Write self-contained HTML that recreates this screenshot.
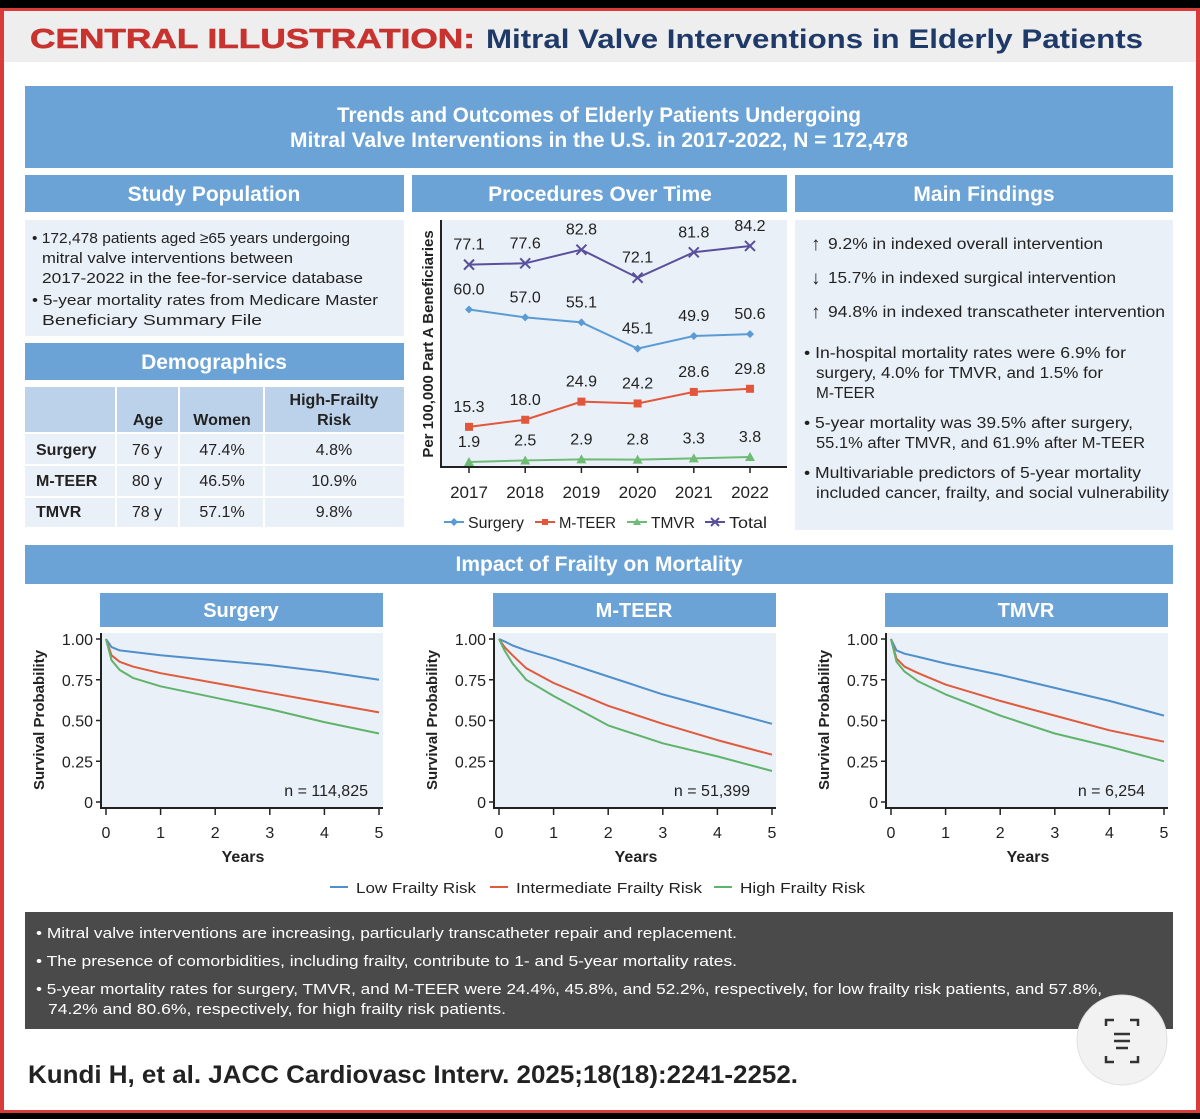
<!DOCTYPE html>
<html><head><meta charset="utf-8"><style>
html,body{margin:0;padding:0;background:#000;}
svg{display:block;font-family:"Liberation Sans",sans-serif;}
</style></head><body>
<svg id="page" width="1200" height="1119" viewBox="0 0 1200 1119">
<rect x="0" y="0" width="1200" height="1119" fill="#000"/>
<rect x="0" y="8" width="1200" height="1105" fill="#d93a3a"/>
<rect x="4" y="11" width="1192" height="1099" fill="#fff"/>
<rect x="4" y="11" width="1192" height="51" fill="#eeeeee"/>
<text x="30" y="48" font-size="28" font-weight="bold" fill="#c8332f" stroke="#c8332f" stroke-width="0.6" textLength="445" lengthAdjust="spacingAndGlyphs">CENTRAL ILLUSTRATION:</text>
<text x="486" y="48" font-size="27" font-weight="bold" fill="#1f3a68" textLength="657" lengthAdjust="spacingAndGlyphs">Mitral Valve Interventions in Elderly Patients</text>

<rect x="25" y="86" width="1148" height="82" fill="#6ba3d6"/>
<text x="599" y="122" font-size="21" font-weight="bold" fill="#fff" text-anchor="middle" textLength="524" lengthAdjust="spacingAndGlyphs">Trends and Outcomes of Elderly Patients Undergoing</text>
<text x="599" y="147" font-size="21" font-weight="bold" fill="#fff" text-anchor="middle" textLength="618" lengthAdjust="spacingAndGlyphs">Mitral Valve Interventions in the U.S. in 2017-2022, N = 172,478</text>

<!-- Study population -->
<rect x="25" y="175" width="379" height="37" fill="#6ba3d6"/>
<text x="214" y="201" font-size="21" font-weight="bold" fill="#fff" text-anchor="middle">Study Population</text>
<rect x="25" y="220" width="379" height="116" fill="#eaf0f8"/>
<g font-size="15" fill="#222">
<text x="32" y="243" textLength="318" lengthAdjust="spacingAndGlyphs">• 172,478 patients aged ≥65 years undergoing</text>
<text x="42" y="263" textLength="251" lengthAdjust="spacingAndGlyphs">mitral valve interventions between</text>
<text x="42" y="283" textLength="321" lengthAdjust="spacingAndGlyphs">2017-2022 in the fee-for-service database</text>
<text x="32" y="305" textLength="346" lengthAdjust="spacingAndGlyphs">• 5-year mortality rates from Medicare Master</text>
<text x="42" y="325" textLength="220" lengthAdjust="spacingAndGlyphs">Beneficiary Summary File</text>
</g>
<rect x="25" y="343" width="379" height="37" fill="#6ba3d6"/>
<text x="214" y="369" font-size="21" font-weight="bold" fill="#fff" text-anchor="middle">Demographics</text>
<g>
<rect x="25" y="387" width="90" height="45" fill="#bcd2ea"/>
<rect x="117" y="387" width="61" height="45" fill="#bcd2ea"/>
<rect x="180" y="387" width="83" height="45" fill="#bcd2ea"/>
<rect x="265" y="387" width="139" height="45" fill="#bcd2ea"/>
<rect x="25" y="434" width="379" height="30" fill="#eaf0f8"/>
<rect x="25" y="466" width="379" height="30" fill="#eaf0f8"/>
<rect x="25" y="498" width="379" height="29" fill="#eaf0f8"/>
<line x1="116" y1="432" x2="116" y2="527" stroke="#fff" stroke-width="2"/>
<line x1="179" y1="432" x2="179" y2="527" stroke="#fff" stroke-width="2"/>
<line x1="264" y1="432" x2="264" y2="527" stroke="#fff" stroke-width="2"/>
<g font-size="16" font-weight="bold" fill="#222" text-anchor="middle">
<text x="148" y="425">Age</text><text x="222" y="425">Women</text>
<text x="334" y="405">High-Frailty</text><text x="334" y="425">Risk</text>
</g>
<g font-size="16" fill="#222">
<text x="36" y="455" font-weight="bold">Surgery</text><text x="147" y="455" text-anchor="middle">76 y</text><text x="222" y="455" text-anchor="middle">47.4%</text><text x="334" y="455" text-anchor="middle">4.8%</text>
<text x="36" y="486" font-weight="bold">M-TEER</text><text x="147" y="486" text-anchor="middle">80 y</text><text x="222" y="486" text-anchor="middle">46.5%</text><text x="334" y="486" text-anchor="middle">10.9%</text>
<text x="36" y="517" font-weight="bold">TMVR</text><text x="147" y="517" text-anchor="middle">78 y</text><text x="222" y="517" text-anchor="middle">57.1%</text><text x="334" y="517" text-anchor="middle">9.8%</text>
</g>
</g>

<!-- Procedures -->
<rect x="412" y="175" width="375" height="37" fill="#6ba3d6"/>
<text x="600" y="201" font-size="21" font-weight="bold" fill="#fff" text-anchor="middle">Procedures Over Time</text>
<rect x="441" y="220" width="346" height="248" fill="#eaf0f8"/>
<g id="proc"></g>
<text transform="translate(433,344) rotate(-90)" font-size="15" font-weight="bold" fill="#222" text-anchor="middle">Per 100,000 Part A Beneficiaries</text>

<!-- Main findings -->
<rect x="795" y="175" width="378" height="37" fill="#6ba3d6"/>
<text x="984" y="201" font-size="21" font-weight="bold" fill="#fff" text-anchor="middle">Main Findings</text>
<rect x="795" y="220" width="378" height="310" fill="#eaf0f8"/>
<g font-size="15.5" fill="#222">
<text x="811" y="250" font-size="19" font-weight="bold">↑</text><text x="828" y="249" textLength="275" lengthAdjust="spacingAndGlyphs">9.2% in indexed overall intervention</text>
<text x="811" y="284" font-size="19" font-weight="bold">↓</text><text x="828" y="283" textLength="288" lengthAdjust="spacingAndGlyphs">15.7% in indexed surgical intervention</text>
<text x="811" y="318" font-size="19" font-weight="bold">↑</text><text x="828" y="317" textLength="337" lengthAdjust="spacingAndGlyphs">94.8% in indexed transcatheter intervention</text>
<text x="804" y="358" textLength="322" lengthAdjust="spacingAndGlyphs">• In-hospital mortality rates were 6.9% for</text>
<text x="816" y="378" textLength="287" lengthAdjust="spacingAndGlyphs">surgery, 4.0% for TMVR, and 1.5% for</text>
<text x="816" y="398" textLength="59" lengthAdjust="spacingAndGlyphs">M-TEER</text>
<text x="804" y="428" textLength="329" lengthAdjust="spacingAndGlyphs">• 5-year mortality was 39.5% after surgery,</text>
<text x="816" y="448" textLength="329" lengthAdjust="spacingAndGlyphs">55.1% after TMVR, and 61.9% after M-TEER</text>
<text x="804" y="478" textLength="337" lengthAdjust="spacingAndGlyphs">• Multivariable predictors of 5-year mortality</text>
<text x="816" y="498" textLength="353" lengthAdjust="spacingAndGlyphs">included cancer, frailty, and social vulnerability</text>
</g>

<!-- Impact -->
<rect x="25" y="545" width="1148" height="39" fill="#6ba3d6"/>
<text x="599" y="571" font-size="21" font-weight="bold" fill="#fff" text-anchor="middle">Impact of Frailty on Mortality</text>
<g id="km"></g>

<g font-size="15" fill="#222">
<line x1="330" y1="887" x2="348" y2="887" stroke="#4f8fcc" stroke-width="2"/><text x="356" y="893" textLength="120" lengthAdjust="spacingAndGlyphs">Low Frailty Risk</text>
<line x1="490" y1="887" x2="508" y2="887" stroke="#e05a3c" stroke-width="2"/><text x="516" y="893" textLength="186" lengthAdjust="spacingAndGlyphs">Intermediate Frailty Risk</text>
<line x1="714" y1="887" x2="732" y2="887" stroke="#5fb36a" stroke-width="2"/><text x="740" y="893" textLength="125" lengthAdjust="spacingAndGlyphs">High Frailty Risk</text>
</g>

<rect x="25" y="912" width="1148" height="117" fill="#4a4a4a"/>
<g font-size="15" fill="#fff">
<text x="36" y="938" textLength="701" lengthAdjust="spacingAndGlyphs">• Mitral valve interventions are increasing, particularly transcatheter repair and replacement.</text>
<text x="36" y="966" textLength="701" lengthAdjust="spacingAndGlyphs">• The presence of comorbidities, including frailty, contribute to 1- and 5-year mortality rates.</text>
<text x="36" y="994" textLength="1066" lengthAdjust="spacingAndGlyphs">• 5-year mortality rates for surgery, TMVR, and M-TEER were 24.4%, 45.8%, and 52.2%, respectively, for low frailty risk patients, and 57.8%,</text>
<text x="48" y="1014" textLength="458" lengthAdjust="spacingAndGlyphs">74.2% and 80.6%, respectively, for high frailty risk patients.</text>
</g>
<text x="28" y="1083" font-size="25" font-weight="bold" fill="#222" textLength="770" lengthAdjust="spacingAndGlyphs">Kundi H, et al. JACC Cardiovasc Interv. 2025;18(18):2241-2252.</text>

<g>
<circle cx="1122" cy="1040" r="45" fill="#f2f2f2" stroke="#e0e0e0"/>
<path d="M1106 1026 v-6 h8 M1130 1020 h8 v6 M1106 1056 v6 h8 M1130 1062 h8 v-6 M1114 1034 h16 M1114 1041 h16 M1116 1048 h12" stroke="#333" stroke-width="2.5" fill="none"/>
</g>
</svg>
<script>
var NS="http://www.w3.org/2000/svg";
// ---- Procedures data ----
var years=["2017","2018","2019","2020","2021","2022"];
var surgeryVals=[60.0,57.0,55.1,45.1,49.9,50.6];
var mteerVals=[15.3,18.0,24.9,24.2,28.6,29.8];
var tmvrVals=[1.9,2.5,2.9,2.8,3.3,3.8];
var totalVals=[77.1,77.6,82.8,72.1,81.8,84.2];
// ---- Survival data ----
var kmTimes=[0,0.1,0.25,0.5,1,2,3,4,5];
var surgLow=[1,0.95,0.93,0.92,0.90,0.87,0.84,0.80,0.75];
var surgInt=[1,0.90,0.86,0.83,0.79,0.73,0.67,0.61,0.55];
var surgHigh=[1,0.87,0.81,0.76,0.71,0.64,0.57,0.49,0.42];
var mteerLow=[1,0.985,0.96,0.93,0.88,0.77,0.66,0.57,0.48];
var mteerInt=[1,0.95,0.90,0.82,0.73,0.59,0.48,0.38,0.29];
var mteerHigh=[1,0.93,0.85,0.75,0.65,0.47,0.36,0.28,0.19];
var tmvrLow=[1,0.93,0.91,0.89,0.85,0.78,0.70,0.62,0.53];
var tmvrInt=[1,0.88,0.83,0.79,0.72,0.62,0.53,0.44,0.37];
var tmvrHigh=[1,0.86,0.80,0.74,0.66,0.53,0.42,0.34,0.25];
var kmTicksY=["0","0.25","0.50","0.75","1.00"];
var kmTicksX=["0","1","2","3","4","5"];
var panelNames=["Surgery","M-TEER","TMVR"];
var panelN=["n = 114,825","n = 51,399","n = 6,254"];

function mk(tag,attrs,parent){var e=document.createElementNS(NS,tag);for(var k in attrs)e.setAttribute(k,attrs[k]);parent.appendChild(e);return e;}

// Procedures chart
var proc=document.getElementById("proc");
function px(i){return 469+i*56.2;}
function py(v){return 467-v*2.625;}
mk("line",{x1:441,y1:220,x2:441,y2:468,stroke:"#222","stroke-width":2},proc);
mk("line",{x1:440,y1:467,x2:787,y2:467,stroke:"#222","stroke-width":2},proc);
years.forEach(function(y,i){
  mk("line",{x1:px(i),y1:467,x2:px(i),y2:473,stroke:"#222","stroke-width":1.5},proc);
  var t=mk("text",{x:px(i),y:498,"font-size":17,"text-anchor":"middle",fill:"#222"},proc);t.textContent=y;
  
  
});
var series=[[surgeryVals,"#5b9bd5","diamond","surgery"],[mteerVals,"#e2573b","square","mteer"],[tmvrVals,"#6dbb75","tri","tmvr"],[totalVals,"#5a4f9c","x","total"]];
series.forEach(function(s){
  var d=s[0].map(function(v,i){return (i?"L":"M")+px(i)+" "+py(v);}).join(" ");
  var p=mk("path",{d:d,fill:"none",stroke:s[1],"stroke-width":2},proc);
  
  
  s[0].forEach(function(v,i){
    var x=px(i),y=py(v),m;
    if(s[2]=="diamond")m=mk("path",{d:"M"+x+" "+(y-4)+"L"+(x+4)+" "+y+"L"+x+" "+(y+4)+"L"+(x-4)+" "+y+"Z",fill:s[1]},proc);
    else if(s[2]=="square")m=mk("rect",{x:x-4,y:y-4,width:8,height:8,fill:s[1]},proc);
    else if(s[2]=="tri")m=mk("path",{d:"M"+x+" "+(y-5)+"L"+(x+5)+" "+(y+4)+"L"+(x-5)+" "+(y+4)+"Z",fill:s[1]},proc);
    else m=mk("path",{d:"M"+(x-5)+" "+(y-5)+"L"+(x+5)+" "+(y+5)+"M"+(x+5)+" "+(y-5)+"L"+(x-5)+" "+(y+5),stroke:s[1],"stroke-width":2},proc);
    
    
    var t=mk("text",{x:x,y:y-15,"font-size":16,"text-anchor":"middle",fill:"#222"},proc);
    t.textContent=v.toFixed(1);
    
    
  });
});
// legend
var lg=[["Surgery",444,"#5b9bd5","diamond",56],["M-TEER",535,"#e2573b","square",57],["TMVR",627,"#6dbb75","tri",44],["Total",705,"#5a4f9c","x",38]];
lg.forEach(function(l){
  var g=mk("g",{},proc);
  
  
  var x=l[1];
  mk("line",{x1:x,y1:522,x2:x+20,y2:522,stroke:l[2],"stroke-width":2},g);
  var cx=x+10;
  if(l[3]=="diamond")mk("path",{d:"M"+cx+" 518L"+(cx+4)+" 522L"+cx+" 526L"+(cx-4)+" 522Z",fill:l[2]},g);
  else if(l[3]=="square")mk("rect",{x:cx-3,y:519,width:6,height:6,fill:l[2]},g);
  else if(l[3]=="tri")mk("path",{d:"M"+cx+" 518L"+(cx+4)+" 525L"+(cx-4)+" 525Z",fill:l[2]},g);
  else mk("path",{d:"M"+(cx-4)+" 518L"+(cx+4)+" 526M"+(cx+4)+" 518L"+(cx-4)+" 526",stroke:l[2],"stroke-width":2},g);
  var t=mk("text",{x:x+24,y:528,"font-size":16,fill:"#222",textLength:l[4],lengthAdjust:"spacingAndGlyphs"},g);t.textContent=l[0];
});

// KM charts
var km=document.getElementById("km");
var panelData=[[surgLow,surgInt,surgHigh],[mteerLow,mteerInt,mteerHigh],[tmvrLow,tmvrInt,tmvrHigh]];
var kmColors=["#4f8fcc","#e05a3c","#5fb36a"];
var kmNames=["low-frailty","intermediate-frailty","high-frailty"];
var offsets=[0,393,785];
panelData.forEach(function(pd,pi){
  var o=offsets[pi];
  var g=mk("g",{},km);
  
  
  var X0=106+o,W=273;
  function sx(t){return X0+t/5*W;}
  function sy(v){return 802-v*163;}
  var hdr=mk("rect",{x:100+o,y:593,width:283,height:34,fill:"#6ba3d6"},g);
  
  
  var ht=mk("text",{x:241+o,y:617,"font-size":20,"font-weight":"bold",fill:"#fff","text-anchor":"middle"},g);ht.textContent=panelNames[pi];
  mk("rect",{x:101+o,y:633,width:282,height:175,fill:"#eaf0f8"},g);
  mk("line",{x1:101+o,y1:633,x2:101+o,y2:809,stroke:"#222","stroke-width":2},g);
  mk("line",{x1:100+o,y1:808,x2:383+o,y2:808,stroke:"#222","stroke-width":2},g);
  kmTicksY.forEach(function(l,i){
    var y=sy(i*0.25);
    mk("line",{x1:96+o,y1:y,x2:101+o,y2:y,stroke:"#222","stroke-width":1.5},g);
    var t=mk("text",{x:93+o,y:y+6,"font-size":16,"text-anchor":"end",fill:"#222"},g);t.textContent=l;
    
    
  });
  kmTicksX.forEach(function(l,i){
    var x=sx(+l);
    mk("line",{x1:x,y1:808,x2:x,y2:815,stroke:"#222","stroke-width":1.5},g);
    var t=mk("text",{x:x,y:838,"font-size":16,"text-anchor":"middle",fill:"#222"},g);t.textContent=l;
    
    
  });
  var yt=mk("text",{transform:"translate("+(44+o)+",720) rotate(-90)","font-size":15,"font-weight":"bold","text-anchor":"middle",fill:"#222"},g);yt.textContent="Survival Probability";
  
  
  var xt=mk("text",{x:243+o,y:862,"font-size":16,"font-weight":"bold","text-anchor":"middle",fill:"#222"},g);xt.textContent="Years";
  
  
  var nt=mk("text",{x:(pi==0?368:(pi==1?750:1145)),y:796,"font-size":16,"text-anchor":"end",fill:"#222"},g);nt.textContent=panelN[pi];
  
  
  pd.forEach(function(vals,si){
    var d=vals.map(function(v,i){return (i?"L":"M")+sx(kmTimes[i]).toFixed(1)+" "+sy(v).toFixed(1);}).join(" ");
    var p=mk("path",{d:d,fill:"none",stroke:kmColors[si],"stroke-width":2,"stroke-linejoin":"round"},g);
    
    
  });
});
</script>
</body></html>
